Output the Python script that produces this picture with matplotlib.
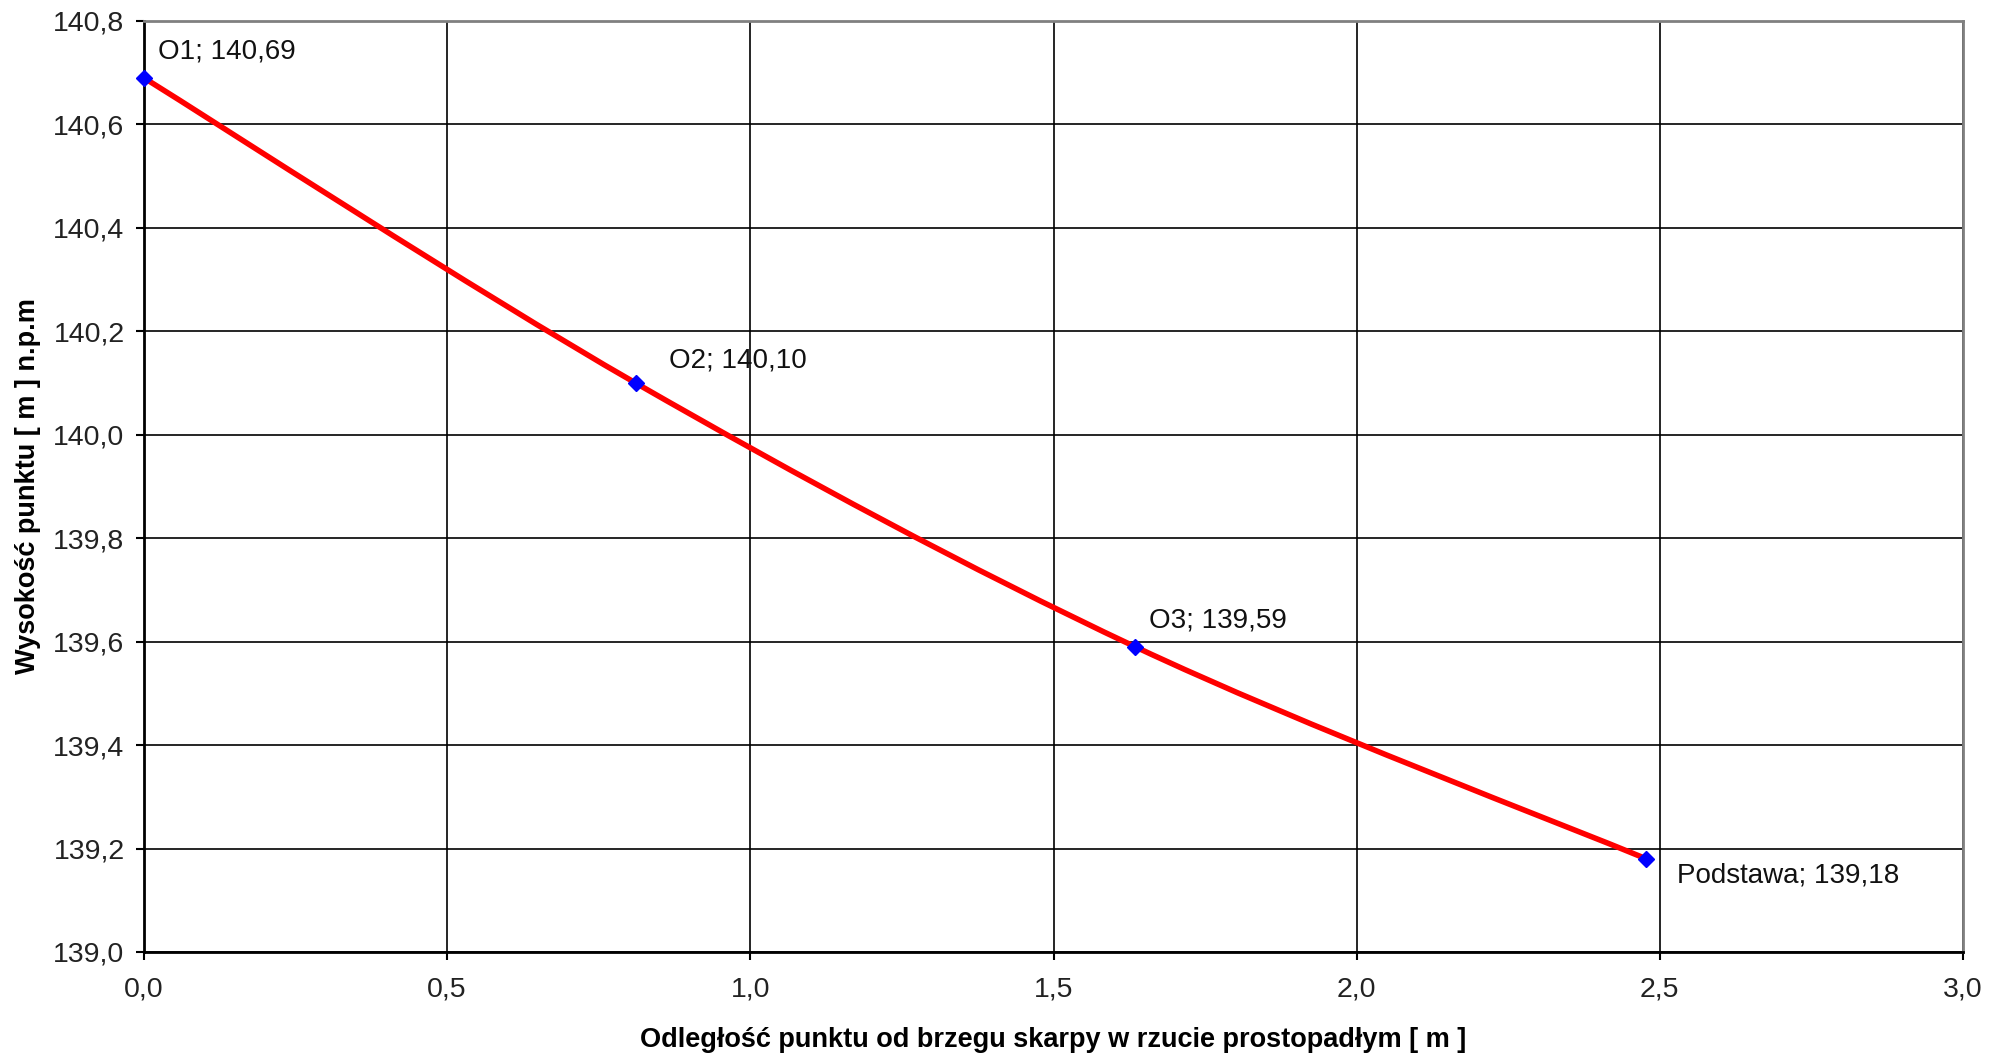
import numpy as np
import matplotlib.pyplot as plt
from matplotlib.path import Path
from matplotlib.patches import PathPatch
from matplotlib.ticker import FuncFormatter, MultipleLocator

plt.rcParams['font.family'] = ['Liberation Sans', 'DejaVu Sans']

# Dane: odległość od brzegu skarpy [m] i wysokość punktu [m n.p.m.]
nazwy = ['O1', 'O2', 'O3', 'Podstawa']
odleglosc = [0.0, 0.811, 1.635, 2.478]
wysokosc = [140.69, 140.10, 139.59, 139.18]

W, H = 2000, 1057
fig = plt.figure(figsize=(W / 100, H / 100), dpi=100)
ax = fig.add_axes([144 / W, 1 - 952 / H, 1819 / W, 931 / H])

# Wygładzona linia (jak w Excelu) - krzywe Beziera przez punkty
x = np.array(odleglosc)
y = np.array(wysokosc)
pts = np.column_stack([x, y])
verts = [pts[0]]
codes = [Path.MOVETO]
for i in range(len(pts) - 1):
    p0 = pts[i - 1] if i > 0 else pts[i]
    p1 = pts[i]
    p2 = pts[i + 1]
    p3 = pts[i + 2] if i + 2 < len(pts) else pts[i + 1]
    c1 = p1 + (p2 - p0) / 6
    c2 = p2 - (p3 - p1) / 6
    verts += [c1, c2, p2]
    codes += [Path.CURVE4] * 3
ax.add_patch(PathPatch(Path(verts, codes), facecolor='none', edgecolor='#ff0000',
                       lw=4.0, zorder=3, capstyle='round'))

ax.plot(x, y, linestyle='none', marker='D', color='#0000ff', markersize=8.5, zorder=4,
        clip_on=False)

# Etykiety punktów
offsety = [(10, 19), (24, 16), (10, 19), (22, -12)]
for n, xi, yi, off in zip(nazwy, odleglosc, wysokosc, offsety):
    ax.annotate(f"{n}; {yi:.2f}".replace('.', ','), (xi, yi), xytext=off,
                textcoords='offset points', ha='left', va='center',
                fontsize=20, color='#111111')

ax.set_xlim(0, 3.0)
ax.set_ylim(139.0, 140.8)
ax.xaxis.set_major_locator(MultipleLocator(0.5))
ax.yaxis.set_major_locator(MultipleLocator(0.2))
fmt = FuncFormatter(lambda v, p: f"{v:.1f}".replace('.', ','))
ax.xaxis.set_major_formatter(fmt)
ax.yaxis.set_major_formatter(fmt)

ax.grid(True, color='black', lw=1.2)
ax.set_axisbelow(True)
ax.tick_params(direction='out', length=6, width=1.5, labelsize=20.5,
               colors='black', labelcolor='#222222')
ax.tick_params(axis='y', pad=8)
ax.tick_params(axis='x', pad=12)

ax.spines['left'].set_linewidth(2)
ax.spines['bottom'].set_linewidth(2)
ax.spines['top'].set_color('#808080')
ax.spines['right'].set_color('#808080')
ax.spines['top'].set_linewidth(2)
ax.spines['right'].set_linewidth(2)

ax.set_xlabel('Odległość punktu od brzegu skarpy w rzucie prostopadłym [ m ]',
              fontsize=19.5, fontweight='bold', labelpad=17)
ax.set_ylabel('Wysokość punktu [ m ] n.p.m', fontsize=19.5, fontweight='bold', labelpad=9)

fig.savefig('out.png', dpi=100)
